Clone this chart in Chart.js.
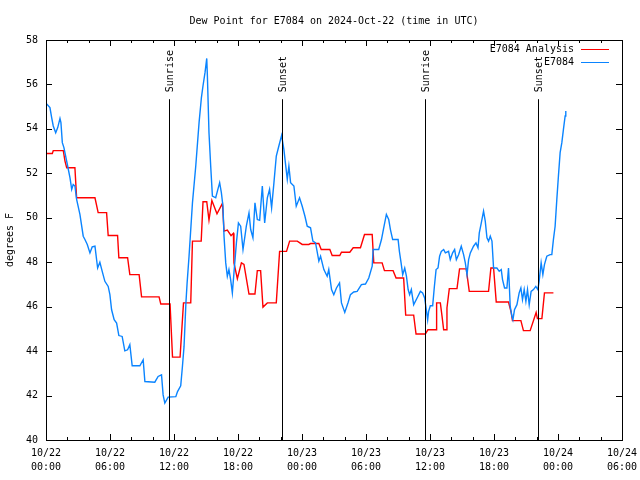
<!DOCTYPE html>
<html>
<head>
<meta charset="utf-8">
<script src="https://cdn.jsdelivr.net/npm/chart.js@4"></script>
<style>
html, body { margin: 0; padding: 0; background: #fff; }
</style>
</head>
<body>
<canvas id="dewpoint" width="640" height="480"></canvas>
<script>
const chartTitle = 'Dew Point for E7084 on 2024-Oct-22 (time in UTC)';
const yAxisTitle = 'degrees F';
const seriesNames = ['E7084 Analysis', 'E7084'];
const seriesColors = ['#ff0000', '#0a84ff'];

// x axis is hours since 10/22 00:00 UTC
const xTickLabels = [
	['10/22', '00:00'], ['10/22', '06:00'], ['10/22', '12:00'], ['10/22', '18:00'],
	['10/23', '00:00'], ['10/23', '06:00'], ['10/23', '12:00'], ['10/23', '18:00'],
	['10/24', '00:00'], ['10/24', '06:00']
];

const eventNames = ['Sunrise', 'Sunset', 'Sunrise', 'Sunset'];
const eventHours = [11.52, 22.09, 35.57, 46.15];

const analysisHours = [
	0.00, 0.59, 0.68, 1.62, 1.78, 1.94, 2.71, 2.87, 4.59, 4.89, 5.68, 5.83, 6.71, 6.83, 7.65, 7.86,
	8.73, 8.96, 10.60, 10.76, 11.63, 11.86, 12.57, 12.89, 13.57, 13.73, 14.55, 14.72, 15.07, 15.28,
	15.55, 16.03, 16.54, 16.69, 17.00, 17.35, 17.57, 17.62, 17.94, 18.32, 18.56, 19.03, 19.59, 19.81,
	20.12, 20.34, 20.75, 21.59, 21.90, 22.55, 22.84, 23.56, 24.02, 24.64, 24.80, 25.58, 25.80, 26.61,
	26.83, 27.54, 27.70, 28.48, 28.80, 29.48, 29.86, 30.58, 30.73, 31.51, 31.73, 32.54, 32.82, 33.53,
	33.72, 34.47, 34.69, 35.56, 35.80, 36.57, 36.62, 36.97, 37.13, 37.28, 37.50, 37.59, 37.81, 38.53,
	38.77, 39.40, 39.68, 41.49, 41.71, 41.96, 42.21, 43.36, 43.61, 43.73, 44.52, 44.76, 45.39, 45.95,
	46.07, 46.49, 46.73, 47.57
];
const analysisDewpt = [
	52.89, 52.89, 53.02, 53.02, 52.55, 52.25, 52.25, 50.90, 50.90, 50.23, 50.23, 49.20, 49.20, 48.20, 48.20, 47.44,
	47.44, 46.44, 46.44, 46.12, 46.12, 43.73, 43.73, 46.17, 46.17, 48.95, 48.95, 50.72, 50.72, 49.90,
	50.78, 50.18, 50.65, 49.40, 49.45, 49.20, 49.30, 47.97, 47.26, 47.97, 47.90, 46.57, 46.57, 47.62,
	47.62, 45.98, 46.17, 46.17, 48.49, 48.49, 48.95, 48.95, 48.80, 48.80, 48.84, 48.84, 48.57, 48.57,
	48.30, 48.30, 48.45, 48.45, 48.65, 48.65, 49.25, 49.25, 47.97, 47.97, 47.62, 47.62, 47.29, 47.29,
	45.62, 45.62, 44.77, 44.77, 44.96, 44.96, 46.17, 46.17, 45.56, 44.96, 44.96, 45.94, 46.81, 46.81,
	47.70, 47.70, 46.69, 46.69, 47.74, 47.74, 46.21, 46.21, 45.74, 45.37, 45.37, 44.92, 44.92, 45.74,
	45.46, 45.46, 46.62, 46.62
];

const obsHours = [
	0.00, 0.37, 0.53, 0.68, 0.91, 1.10, 1.31, 1.40, 1.53, 1.68, 2.03, 2.25, 2.41, 2.55, 2.71, 2.87,
	3.18, 3.49, 3.65, 3.87, 4.12, 4.33, 4.59, 4.84, 5.05, 5.27, 5.52, 5.83, 5.99, 6.15, 6.39, 6.62,
	6.83, 7.14, 7.39, 7.65, 7.86, 8.08, 8.80, 9.11, 9.27, 10.20, 10.51, 10.83, 10.98, 11.14, 11.45, 12.17,
	12.33, 12.63, 12.79, 12.94, 13.12, 13.23, 13.41, 13.73, 14.04, 14.35, 14.57, 14.72, 14.91, 15.07,
	15.13, 15.28, 15.44, 15.60, 15.91, 16.07, 16.28, 16.44, 16.59, 16.69, 16.85, 17.00, 17.15, 17.31,
	17.47, 17.62, 17.85, 18.04, 18.25, 18.47, 18.65, 18.78, 19.03, 19.19, 19.40, 19.59, 19.81, 20.03,
	20.28, 20.50, 20.75, 20.96, 21.15, 21.37, 21.59, 21.83, 22.09, 22.30, 22.46, 22.62, 22.77, 22.93,
	23.24, 23.46, 23.77, 24.02, 24.27, 24.49, 24.80, 25.02, 25.27, 25.58, 25.74, 26.05, 26.36, 26.51,
	26.77, 26.98, 27.23, 27.52, 27.70, 28.01, 28.33, 28.54, 28.85, 29.17, 29.57, 29.95, 30.26, 30.58,
	30.67, 31.19, 31.45, 31.66, 31.91, 32.13, 32.29, 32.50, 33.01, 33.13, 33.29, 33.44, 33.63, 33.79,
	33.95, 34.09, 34.25, 34.47, 34.79, 35.10, 35.31, 35.50, 35.63, 35.78, 35.87, 36.03, 36.25, 36.41,
	36.57, 36.75, 36.90, 37.06, 37.28, 37.44, 37.74, 37.90, 38.12, 38.31, 38.47, 38.68, 38.93, 39.15,
	39.31, 39.47, 39.62, 39.78, 40.08, 40.31, 40.50, 40.62, 40.81, 41.02, 41.18, 41.34, 41.49, 41.65,
	41.81, 41.96, 42.27, 42.49, 42.68, 42.80, 42.99, 43.21, 43.36, 43.42, 43.52, 43.68, 43.77, 43.92,
	44.15, 44.36, 44.52, 44.67, 44.83, 44.99, 45.14, 45.30, 45.48, 45.70, 45.92, 46.11, 46.23, 46.42,
	46.58, 46.73, 46.95, 47.26, 47.42, 47.57, 47.73, 47.89, 48.04, 48.20, 48.36, 48.51, 48.67, 48.73
];
const obsDewpt = [
	55.16, 54.96, 54.51, 54.13, 53.83, 54.06, 54.47, 54.28, 53.38, 53.16, 52.33, 51.80, 51.28, 51.50, 51.43, 50.83,
	50.15, 49.17, 49.02, 48.80, 48.42, 48.69, 48.72, 47.74, 48.00, 47.59, 47.14, 46.91, 46.54, 45.86, 45.41, 45.26,
	44.70, 44.66, 44.01, 44.06, 44.29, 43.34, 43.34, 43.61, 42.63, 42.60, 42.86, 42.93, 42.03, 41.66, 41.93, 41.95,
	42.18, 42.44, 43.31, 44.20, 46.20, 47.07, 48.27, 50.67, 52.33, 54.28, 55.41, 55.94, 56.54, 57.17,
	56.39, 53.83, 52.33, 50.98, 50.90, 51.20, 51.58, 51.13, 50.52, 49.17, 47.97, 47.37, 47.67, 47.22,
	46.62, 47.52, 48.87, 49.77, 49.62, 48.57, 49.17, 49.62, 50.22, 49.47, 49.10, 50.67, 49.92, 49.89,
	51.43, 49.77, 50.90, 51.28, 50.45, 51.58, 52.78, 53.23, 53.71, 53.08, 52.40, 51.73, 52.33, 51.58,
	51.43, 50.52, 50.90, 50.52, 50.08, 49.62, 49.55, 48.95, 48.87, 48.05, 48.27, 47.67, 47.37, 47.67,
	46.77, 46.54, 46.84, 47.07, 46.17, 45.74, 46.20, 46.54, 46.66, 46.69, 46.99, 47.02, 47.29, 47.82,
	48.57, 48.57, 49.02, 49.55, 50.15, 49.92, 49.47, 49.02, 49.02, 48.49, 47.97, 47.44, 47.74, 47.37,
	46.77, 46.54, 46.77, 46.09, 46.39, 46.69, 46.62, 46.39, 45.94, 45.41, 45.79, 46.04, 46.04, 46.91,
	47.67, 47.74, 48.27, 48.49, 48.57, 48.42, 48.49, 48.12, 48.42, 48.57, 48.12, 48.34, 48.72, 48.34,
	47.97, 47.44, 48.12, 48.42, 48.72, 48.87, 48.65, 49.32, 49.77, 50.30, 49.85, 49.10, 48.95, 49.17,
	48.95, 47.74, 47.74, 47.59, 47.67, 47.22, 46.84, 46.84, 47.74, 47.14, 46.01, 45.56, 45.41, 45.86,
	46.09, 46.62, 46.84, 46.32, 46.77, 46.24, 46.77, 46.09, 46.69, 46.77, 46.91, 46.77, 47.14, 47.97,
	47.44, 47.89, 48.27, 48.34, 48.34, 49.02, 49.62, 50.83, 51.88, 52.93, 53.38, 53.98, 54.58, 54.81
];

const monoFont = { family: "'DejaVu Sans Mono', 'Liberation Mono', monospace", size: 10, weight: 'normal' };

function toPoints(xs, ys) {
	return xs.map((h, i) => ({ x: h, y: ys[i] }));
}

// gnuplot-like frame: box, inward ticks, sunrise/sunset markers, legend in the corner
const gnuplotFrame = {
	id: 'gnuplotFrame',
	afterDatasetsDraw(chart) {
		const ctx = chart.ctx;
		const xs = chart.scales.x;
		const ys = chart.scales.y;
		const { left, right, top, bottom } = chart.chartArea;
		const font = `${monoFont.size}px ${monoFont.family}`;

		ctx.save();
		ctx.strokeStyle = '#000';
		ctx.lineWidth = 1;
		ctx.beginPath();
		xs.ticks.forEach(t => {
			const px = Math.round(xs.getPixelForValue(t.value)) + 0.5;
			const len = t.value % 6 === 0 ? 6 : 3;
			ctx.moveTo(px, bottom); ctx.lineTo(px, bottom - len);
			ctx.moveTo(px, top); ctx.lineTo(px, top + len);
		});
		ys.ticks.forEach(t => {
			const py = Math.round(ys.getPixelForValue(t.value)) + 0.5;
			ctx.moveTo(left, py); ctx.lineTo(left + 6, py);
			ctx.moveTo(right, py); ctx.lineTo(right - 6, py);
		});
		ctx.stroke();
		ctx.strokeRect(Math.round(left) + 0.5, Math.round(top) + 0.5, Math.round(right - left), Math.round(bottom - top));

		// sunrise / sunset
		ctx.font = font;
		ctx.fillStyle = '#000';
		const markTop = top + (bottom - top) * 0.148;
		eventHours.forEach((h, i) => {
			const px = Math.round(xs.getPixelForValue(h)) + 0.5;
			ctx.beginPath();
			ctx.moveTo(px, markTop);
			ctx.lineTo(px, bottom);
			ctx.stroke();
			ctx.save();
			ctx.translate(px + 1, markTop - 7);
			ctx.rotate(-Math.PI / 2);
			ctx.textAlign = 'left';
			ctx.textBaseline = 'middle';
			ctx.fillText(eventNames[i], 0, 0);
			ctx.restore();
		});

		// legend
		const textRight = right - 48;
		seriesNames.forEach((name, i) => {
			const ly = top + 9 + i * 13;
			ctx.fillStyle = '#000';
			ctx.textAlign = 'right';
			ctx.textBaseline = 'middle';
			ctx.fillText(name, textRight, ly);
			ctx.strokeStyle = seriesColors[i];
			ctx.beginPath();
			ctx.moveTo(textRight + 7, Math.round(ly) + 0.5);
			ctx.lineTo(textRight + 35, Math.round(ly) + 0.5);
			ctx.stroke();
		});
		ctx.restore();
	}
};

Chart.defaults.color = '#000';
Chart.defaults.font = monoFont;

new Chart(document.getElementById('dewpoint'), {
	type: 'line',
	data: {
		datasets: [
			{
				label: seriesNames[0],
				data: toPoints(analysisHours, analysisDewpt),
				borderColor: seriesColors[0],
				borderWidth: 1.4,
				pointRadius: 0,
				tension: 0,
				order: 1,
			},
			{
				label: seriesNames[1],
				data: toPoints(obsHours, obsDewpt),
				borderColor: seriesColors[1],
				borderWidth: 1.4,
				pointRadius: 0,
				tension: 0,
				order: 0,
			},
		],
	},
	options: {
		responsive: false,
		animation: false,
		layout: { padding: { left: 0, right: 18, top: 0, bottom: 0 } },
		scales: {
			x: {
				type: 'linear',
				min: 0,
				max: 54,
				grid: { display: false, drawTicks: false },
				border: { display: false },
				ticks: {
					stepSize: 2,
					autoSkip: false,
					maxRotation: 0,
					padding: 6,
					font: { ...monoFont, lineHeight: 1.4 },
					callback: v => (v % 6 === 0 ? xTickLabels[v / 6] : ''),
				},
				afterFit: s => {
					s.height = 40;
					s.paddingLeft = 0;
					s.paddingRight = 0;
				},
			},
			y: {
				min: 40,
				max: 58,
				grid: { display: false, drawTicks: false },
				border: { display: false },
				ticks: { stepSize: 2, padding: 8 },
				title: { display: true, text: yAxisTitle, padding: { top: 4, bottom: 4 } },
				afterFit: s => { s.width = 46; },
			},
		},
		plugins: {
			legend: { display: false },
			tooltip: { enabled: false },
			title: {
				display: true,
				fullSize: false,
				text: chartTitle,
				font: monoFont,
				color: '#000',
				padding: { top: 15, bottom: 13 },
			},
		},
	},
	plugins: [gnuplotFrame],
});
</script>
</body>
</html>
